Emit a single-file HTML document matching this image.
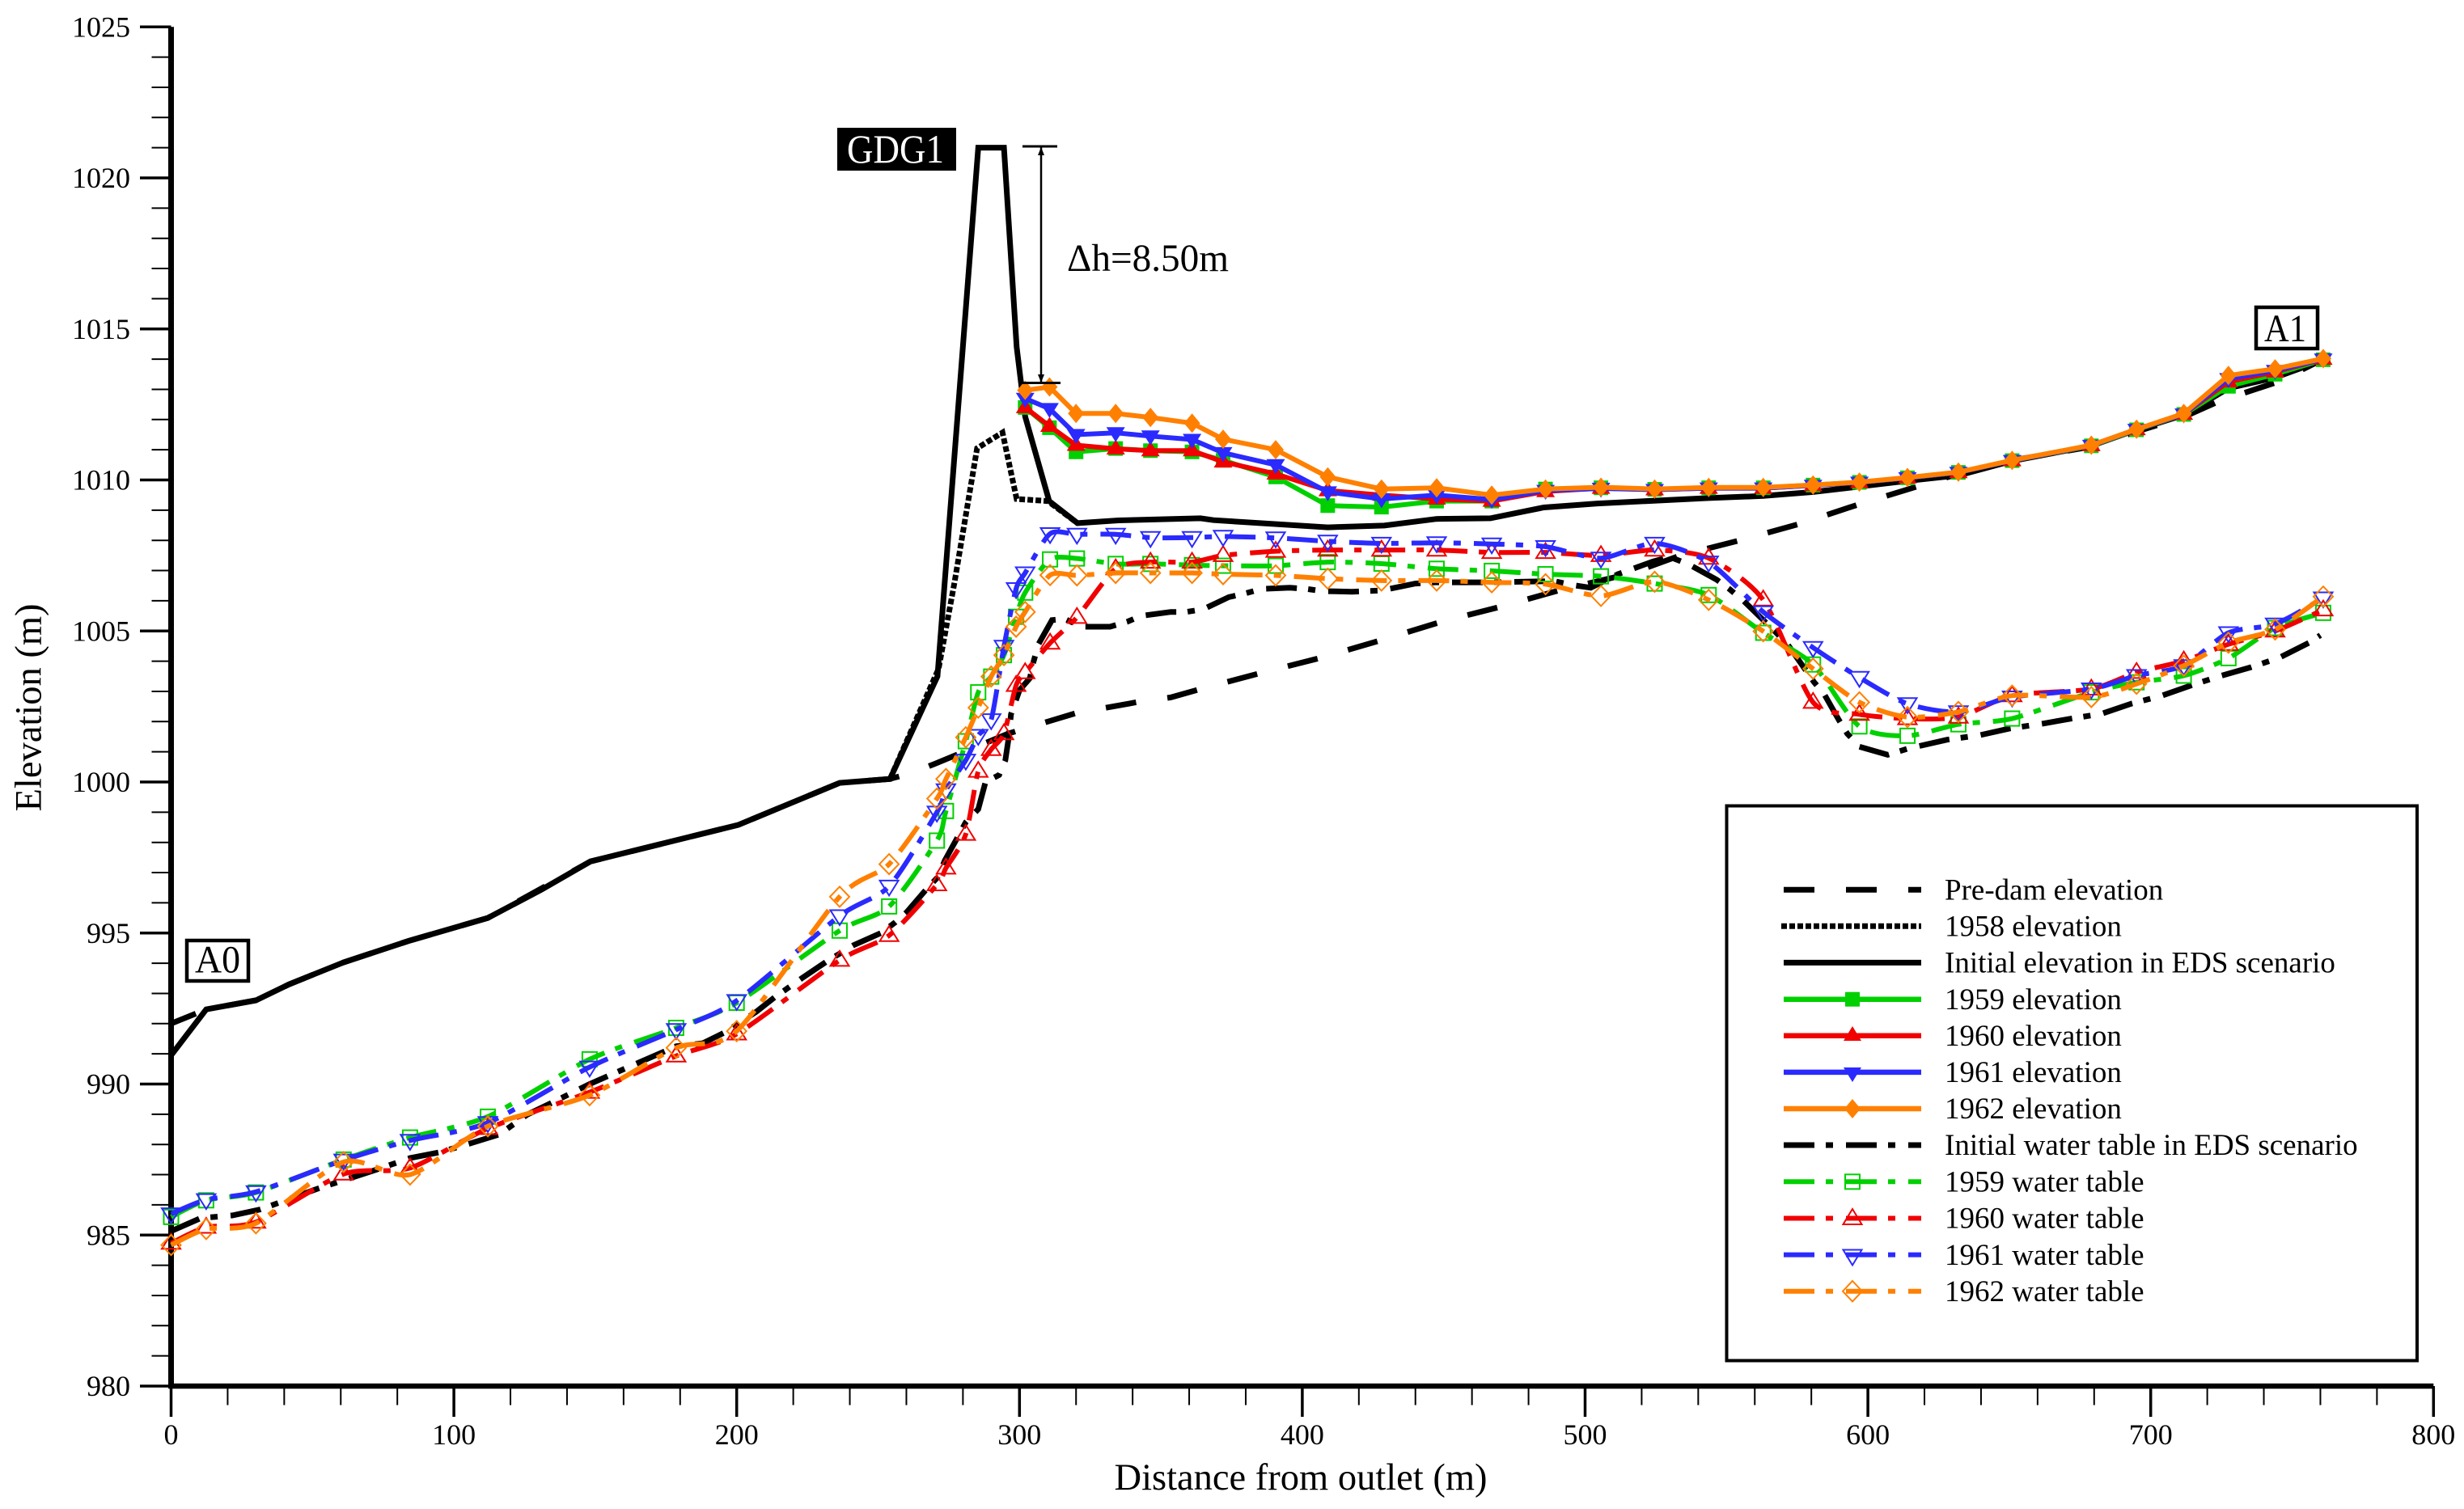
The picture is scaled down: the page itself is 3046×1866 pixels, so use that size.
<!DOCTYPE html>
<html lang="en">
<head>
<meta charset="utf-8">
<title>Elevation and water table along the profile</title>
<style>
html,body{margin:0;padding:0;background:#fff;}
svg{display:block;}
text{font-family:"Liberation Serif",serif;fill:#000;}
</style>
</head>
<body>
<svg id="chart" xmlns="http://www.w3.org/2000/svg" width="3046" height="1866" viewBox="0 0 3046 1866">
  <rect x="0" y="0" width="3046" height="1866" fill="#fff"/>
  <g id="axes"></g>
  <g id="series"></g>

  <text x="1608" y="1842" font-size="46.5" text-anchor="middle">Distance from outlet (m)</text>
  <text transform="translate(50.5,875) rotate(-90)" font-size="46.5" text-anchor="middle">Elevation (m)</text>

  <g>
    <rect x="1035" y="158" width="147" height="53" fill="#000"/>
    <text x="1047" y="201" font-size="50" style="fill:#fff" textLength="120" lengthAdjust="spacingAndGlyphs">GDG1</text>
  </g>
  <g>
    <rect x="231" y="1163" width="76" height="50" fill="#fff" stroke="#000" stroke-width="4.5"/>
    <text x="241" y="1202.5" font-size="48" textLength="56" lengthAdjust="spacingAndGlyphs">A0</text>
  </g>
  <g>
    <rect x="2789" y="380" width="76" height="51" fill="#fff" stroke="#000" stroke-width="4.5"/>
    <text x="2799" y="422" font-size="48" textLength="52" lengthAdjust="spacingAndGlyphs">A1</text>
  </g>
  <g>
    <line x1="1287" y1="181" x2="1287" y2="473" stroke="#000" stroke-width="2.5"/>
    <line x1="1264" y1="181" x2="1307" y2="181" stroke="#000" stroke-width="3"/>
    <line x1="1264" y1="473.5" x2="1311" y2="473.5" stroke="#000" stroke-width="3"/>
    <polygon points="1287,182 1283,192 1291,192" fill="#000"/>
    <polygon points="1287,473 1283,463 1291,463" fill="#000"/>
    <text x="1319" y="335" font-size="48" textLength="200" lengthAdjust="spacingAndGlyphs">Δh=8.50m</text>
  </g>

  <g>
    <rect x="2134.5" y="996.5" width="853.5" height="686" fill="#fff" stroke="#000" stroke-width="4"/>

    <g>
      <line x1="2205" y1="1100.3" x2="2375" y2="1100.3" stroke="#000" stroke-width="7" stroke-dasharray="38 39"/>
      <text x="2404" y="1112.5" font-size="37">Pre-dam elevation</text>
    </g>
    <g>
      <line x1="2202" y1="1145.3" x2="2375" y2="1145.3" stroke="#000" stroke-width="7" stroke-dasharray="7 3"/>
      <text x="2404" y="1157.5" font-size="37">1958 elevation</text>
    </g>
    <g>
      <line x1="2205" y1="1190.4" x2="2375" y2="1190.4" stroke="#000" stroke-width="7"/>
      <text x="2404" y="1202.6" font-size="37">Initial elevation in EDS scenario</text>
    </g>
    <g>
      <line x1="2205" y1="1235.7" x2="2375" y2="1235.7" stroke="#00d000" stroke-width="6.5"/>
      <rect x="2281" y="1226.7" width="18" height="18" fill="#00d000"/>
      <text x="2404" y="1247.9" font-size="37">1959 elevation</text>
    </g>
    <g>
      <line x1="2205" y1="1280.8" x2="2375" y2="1280.8" stroke="#f00000" stroke-width="6.5"/>
      <polygon points="2290,1269 2301,1287 2279,1287" fill="#f00000"/>
      <text x="2404" y="1293" font-size="37">1960 elevation</text>
    </g>
    <g>
      <line x1="2205" y1="1325.9" x2="2375" y2="1325.9" stroke="#2a2aff" stroke-width="6.5"/>
      <polygon points="2279,1320 2301,1320 2290,1338" fill="#2a2aff"/>
      <text x="2404" y="1338.1" font-size="37">1961 elevation</text>
    </g>
    <g>
      <line x1="2205" y1="1371" x2="2375" y2="1371" stroke="#ff8000" stroke-width="6.5"/>
      <polygon points="2290,1359 2300,1371 2290,1383 2280,1371" fill="#ff8000"/>
      <text x="2404" y="1383.2" font-size="37">1962 elevation</text>
    </g>
    <g>
      <line x1="2205" y1="1416" x2="2375" y2="1416" stroke="#000" stroke-width="7" stroke-dasharray="38 14 9 16"/>
      <text x="2404" y="1428.2" font-size="37">Initial water table in EDS scenario</text>
    </g>
    <g>
      <line x1="2205" y1="1461.3" x2="2375" y2="1461.3" stroke="#00d000" stroke-width="6" stroke-dasharray="38 14 9 16"/>
      <rect x="2281" y="1452.3" width="18" height="18" fill="none" stroke="#00d000" stroke-width="2"/>
      <text x="2404" y="1473.5" font-size="37">1959 water table</text>
    </g>
    <g>
      <line x1="2205" y1="1506.5" x2="2375" y2="1506.5" stroke="#f00000" stroke-width="6" stroke-dasharray="38 14 9 16"/>
      <polygon points="2290,1495 2301.5,1514 2278.5,1514" fill="none" stroke="#f00000" stroke-width="2"/>
      <text x="2404" y="1518.7" font-size="37">1960 water table</text>
    </g>
    <g>
      <line x1="2205" y1="1551.6" x2="2375" y2="1551.6" stroke="#2a2aff" stroke-width="6" stroke-dasharray="38 14 9 16"/>
      <polygon points="2278.5,1545.5 2301.5,1545.5 2290,1564.5" fill="none" stroke="#2a2aff" stroke-width="2"/>
      <text x="2404" y="1563.8" font-size="37">1961 water table</text>
    </g>
    <g>
      <line x1="2205" y1="1596.7" x2="2375" y2="1596.7" stroke="#ff8000" stroke-width="6" stroke-dasharray="38 14 9 16"/>
      <polygon points="2290,1584 2302,1596.7 2290,1609.4 2278,1596.7" fill="none" stroke="#ff8000" stroke-width="2"/>
      <text x="2404" y="1608.9" font-size="37">1962 water table</text>
    </g>
  </g>
</svg>

<script>
/* ---------- Axis tick data ---------- */
var xTickLabels = [0, 100, 200, 300, 400, 500, 600, 700, 800];
var yTickLabels = [980, 985, 990, 995, 1000, 1005, 1010, 1015, 1020, 1025];
var xMinorStep = 20;
var yMinorStep = 1;

/* ---------- Profile distances (m) ---------- */
var preDamDistance = [0,12.4,30,41.7,61,84,112,148.3,200.6,236.4,254,262,270,283,296,310,320,342,353.5,364,385,406,428,449,470,491,516,533.6,554.6,576,597,618,632,651,679,695,712,724,745,761];
var preDamElevation = [992,992.47,992.77,993.3,994.03,994.74,995.5,997.37,998.58,999.97,1000.1,1000.3,1000.6,1001.1,1001.6,1002,1002.28,1002.65,1002.8,1003.08,1003.6,1004.1,1004.7,1005.3,1005.8,1006.35,1006.9,1007.5,1008,1008.55,1009.2,1009.8,1010.2,1010.65,1011.1,1011.6,1012.1,1012.6,1013.25,1014];

var initialDistance = [0,12.4,30,41.7,61,84,112,131,148.3,200.6,236.4,254.2,271,285.4,294.5,299,302,310.5,320.5,335,364,368.6,409,429,447.4,466.5,485.4,504.4,543.7,563,580.6,597,614,632,651,679,695,711.7,727.5,744,761];
var initialElevation = [990.95,992.47,992.77,993.3,994.03,994.74,995.5,996.44,997.37,998.58,999.97,1000.1,1003.5,1021,1021,1014.4,1012.1,1009.3,1008.57,1008.66,1008.73,1008.67,1008.43,1008.49,1008.71,1008.73,1009.09,1009.22,1009.4,1009.47,1009.6,1009.78,1009.97,1010.15,1010.63,1011.13,1011.66,1012.15,1013.04,1013.39,1013.97];

var elev1958Distance = [254.2,271.4,277,285,294,299,310,320.5];
var elev1958Elevation = [1000.1,1003.75,1006.6,1011.05,1011.57,1009.37,1009.3,1008.57];

/* ---------- Post-dam elevation surveys ---------- */
var elevationDistance = [302,310.6,320,334,346.3,361,372,390.6,409,428,447.5,467,486,505.6,524.6,543.7,563,580.6,597,614,632,651,679,695,711.7,727.5,744,761];
var elevation1959 = [1012.4,1011.73,1010.93,1011.04,1010.97,1010.93,1010.65,1010.1,1009.15,1009.1,1009.3,1009.3,1009.7,1009.74,1009.69,1009.74,1009.74,1009.83,1009.92,1010.07,1010.25,1010.64,1011.13,1011.66,1012.17,1013.1,1013.5,1013.98];
var elevation1960 = [1012.4,1011.78,1011.15,1011.03,1010.97,1010.97,1010.6,1010.2,1009.65,1009.5,1009.37,1009.3,1009.62,1009.73,1009.68,1009.73,1009.73,1009.82,1009.92,1010.07,1010.25,1010.64,1011.14,1011.67,1012.18,1013.25,1013.58,1014];
var elevation1961 = [1012.7,1012.36,1011.5,1011.56,1011.45,1011.34,1010.9,1010.5,1009.6,1009.37,1009.5,1009.35,1009.65,1009.72,1009.68,1009.73,1009.73,1009.82,1009.92,1010.07,1010.25,1010.64,1011.14,1011.67,1012.18,1013.35,1013.62,1014];
var elevation1962 = [1012.97,1013.08,1012.2,1012.2,1012.07,1011.88,1011.35,1011,1010.1,1009.7,1009.74,1009.5,1009.7,1009.76,1009.7,1009.75,1009.75,1009.83,1009.93,1010.08,1010.26,1010.65,1011.15,1011.68,1012.2,1013.46,1013.68,1014.02];

/* ---------- Water tables ---------- */
var initialWaterDistance = [0,10.5,21.6,31.6,52,73.7,84.5,95,106,116,126,134.6,148,178.6,188,195.6,207,213.4,223,232,241.4,251,256,260,267,271,273.6,278,281,285.4,288,292.8,295,296,297,300,303.7,304.8,306.7,311.5,316,322,332,338,343,353.5,359,365,374,380,385.6,395.6,401.6,407,417.6,428,440,447,467,489,495.6,502,511.6,524,530,537,546.5,551,556,567,571.6,581,584.6,589.7,592.7,597,607,614,628,639.6,650,661.7,672,682.7,693,704,714,725,735.4,745.6,756,760];
var initialWaterTable = [985.13,985.56,985.65,985.85,986.54,987.2,987.55,987.74,988.04,988.33,988.99,989.38,990,991.25,991.35,991.7,992.4,992.87,993.5,994.07,994.6,995,995.35,995.68,996.44,996.84,997.4,998.15,998.67,999.1,1000,1000.23,1000.72,1001.35,1002.24,1003.04,1003.44,1003.93,1004.56,1005.36,1005.4,1005.14,1005.14,1005.3,1005.5,1005.63,1005.63,1005.72,1006.12,1006.25,1006.39,1006.43,1006.39,1006.32,1006.3,1006.34,1006.57,1006.61,1006.61,1006.65,1006.52,1006.43,1006.88,1007.3,1007.45,1007.19,1006.7,1006.39,1006,1005,1004.56,1003.3,1002.9,1002.06,1001.6,1001.17,1000.9,1001.1,1001.4,1001.55,1001.77,1001.93,1002.1,1002.26,1002.59,1002.86,1003.19,1003.52,1003.8,1004.12,1004.61,1004.86];

var waterDistance = [0,12.4,30,61,84.5,112,148,178.6,200,236.4,253.9,270.8,274,281,285.4,290,294.5,298.8,302,310.8,320.3,334,346.3,361,372,390.6,409,428,447.5,467,486,505.6,524.6,543.7,563,580.6,597,614,632,651,679,695,711.7,727.5,744,761];
var waterTable1959 = [985.6,986.15,986.41,987.5,988.23,988.92,990.82,991.86,992.69,995.08,995.88,998.06,999.04,1001.35,1002.97,1003.49,1004.2,1005.47,1006.27,1007.37,1007.4,1007.22,1007.22,1007.18,1007.16,1007.16,1007.28,1007.23,1007.06,1006.99,1006.88,1006.81,1006.57,1006.19,1004.94,1003.89,1001.84,1001.53,1001.91,1002.1,1002.97,1003.3,1003.52,1004.1,1005.1,1005.6];
var waterTable1960 = [984.73,985.26,985.43,987.02,987.22,988.53,989.73,990.93,991.66,994.1,994.92,996.6,997.15,998.27,1000.36,1001.08,1001.6,1003.2,1003.62,1004.6,1005.45,1007.06,1007.28,1007.28,1007.5,1007.64,1007.68,1007.68,1007.68,1007.6,1007.6,1007.5,1007.68,1007.41,1006.03,1002.64,1002.24,1002.1,1002.15,1002.86,1003.08,1003.63,1004.01,1004.56,1005,1005.7];
var waterTable1961 = [985.7,986.17,986.43,987.48,988.13,988.72,990.56,991.8,992.76,995.57,996.55,999,999.74,1000.72,1001.54,1002.06,1004.49,1006.4,1006.92,1008.22,1008.2,1008.2,1008.09,1008.09,1008.13,1008.08,1007.97,1007.9,1007.92,1007.88,1007.79,1007.41,1007.9,1007.28,1005.63,1004.45,1003.46,1002.59,1002.32,1002.81,1003.08,1003.52,1003.85,1004.94,1005.23,1006.09];
var waterTable1962 = [984.67,985.2,985.39,987.42,987,988.6,989.63,991.2,991.75,996.2,997.28,999.45,1000.1,1001.48,1002.46,1003.49,1004.2,1005.14,1005.63,1006.85,1006.84,1006.92,1006.92,1006.92,1006.88,1006.84,1006.73,1006.67,1006.67,1006.61,1006.55,1006.16,1006.63,1006.03,1004.99,1003.75,1002.64,1002.15,1002.32,1002.86,1002.81,1003.25,1003.85,1004.61,1005.05,1006.14];

/* ---------- Axis functions ---------- */
var SVG_NS = 'http://www.w3.org/2000/svg';
var X_ORIGIN = 211.5, X_PER_M = 3.496;
var Y_ORIGIN = 1714, Y_PER_M = 37.35, Y_BASE = 980;
function xScale(d) { return X_ORIGIN + d * X_PER_M; }
function yScale(e) { return Y_ORIGIN - (e - Y_BASE) * Y_PER_M; }

function make(tag, parent, attrs) {
  var el = document.createElementNS(SVG_NS, tag);
  for (var k in attrs) { el.setAttribute(k, attrs[k]); }
  parent.appendChild(el);
  return el;
}

var axesGroup = document.getElementById('axes');
var seriesGroup = document.getElementById('series');

/* ---------- Axes ---------- */
function drawAxes() {
  var xMax = xTickLabels[xTickLabels.length - 1];
  var yMax = yTickLabels[yTickLabels.length - 1];
  var d, e, i, tick, label;

  for (d = 0; d <= xMax; d += xMinorStep) {
    if (d % 100 === 0) { continue; }
    tick = make('line', axesGroup, {x1: xScale(d), y1: Y_ORIGIN, x2: xScale(d), y2: 1737.5, stroke: '#000', 'stroke-width': 2});
    
    
  }
  for (e = Y_BASE; e <= yMax; e += yMinorStep) {
    if (e % 5 === 0) { continue; }
    tick = make('line', axesGroup, {x1: 187.5, y1: yScale(e), x2: X_ORIGIN, y2: yScale(e), stroke: '#000', 'stroke-width': 2});
    
    
  }
  for (i = 0; i < xTickLabels.length; i++) {
    tick = make('line', axesGroup, {x1: xScale(xTickLabels[i]), y1: Y_ORIGIN, x2: xScale(xTickLabels[i]), y2: 1752, stroke: '#000', 'stroke-width': 3.5});
    
    
    label = make('text', axesGroup, {x: xScale(xTickLabels[i]), y: 1786, 'font-size': 36, 'text-anchor': 'middle'});
    label.textContent = String(xTickLabels[i]);
    
    
  }
  for (i = 0; i < yTickLabels.length; i++) {
    tick = make('line', axesGroup, {x1: 173, y1: yScale(yTickLabels[i]), x2: X_ORIGIN, y2: yScale(yTickLabels[i]), stroke: '#000', 'stroke-width': 3.5});
    
    
    label = make('text', axesGroup, {x: 161, y: yScale(yTickLabels[i]) + 12, 'font-size': 36, 'text-anchor': 'end'});
    label.textContent = String(yTickLabels[i]);
    
    
  }
  var yAxis = make('line', axesGroup, {x1: X_ORIGIN, y1: yScale(yMax), x2: X_ORIGIN, y2: Y_ORIGIN + 3, stroke: '#000', 'stroke-width': 7});
  
  
  var xAxis = make('line', axesGroup, {x1: X_ORIGIN - 3, y1: Y_ORIGIN, x2: xScale(xMax), y2: Y_ORIGIN, stroke: '#000', 'stroke-width': 6.5});
  
  
}

/* ---------- Series paths ---------- */
function linearPath(xs, ys) {
  var p = '';
  for (var i = 0; i < xs.length; i++) {
    p += (i ? 'L' : 'M') + xScale(xs[i]).toFixed(1) + ' ' + yScale(ys[i]).toFixed(1);
  }
  return p;
}
function smoothPath(xs, ys) {
  var pts = [];
  for (var i = 0; i < xs.length; i++) { pts.push([xScale(xs[i]), yScale(ys[i])]); }
  var p = 'M' + pts[0][0].toFixed(1) + ' ' + pts[0][1].toFixed(1);
  for (var j = 0; j < pts.length - 1; j++) {
    var a = pts[Math.max(j - 1, 0)], b = pts[j], c = pts[j + 1], f = pts[Math.min(j + 2, pts.length - 1)];
    p += 'C' + (b[0] + (c[0] - a[0]) / 8).toFixed(1) + ' ' + (b[1] + (c[1] - a[1]) / 8).toFixed(1) + ' ' +
         (c[0] - (f[0] - b[0]) / 8).toFixed(1) + ' ' + (c[1] - (f[1] - b[1]) / 8).toFixed(1) + ' ' +
         c[0].toFixed(1) + ' ' + c[1].toFixed(1);
  }
  return p;
}
function markerAt(g, kind, filled, color, cx, cy) {
  var el, pts;
  var fill = filled ? color : 'none';
  var stroke = filled ? 'none' : color;
  if (kind === 'square') {
    el = make('rect', g, {x: cx - 9, y: cy - 9, width: 18, height: 18, fill: fill, stroke: stroke, 'stroke-width': 2});
  } else {
    if (kind === 'up') { pts = [[cx, cy - 11.5], [cx + 11.5, cy + 7], [cx - 11.5, cy + 7]]; }
    if (kind === 'down') { pts = [[cx - 11.5, cy - 7], [cx + 11.5, cy - 7], [cx, cy + 11.5]]; }
    if (kind === 'diamond') {
      pts = filled
        ? [[cx, cy - 12], [cx + 10, cy], [cx, cy + 12], [cx - 10, cy]]
        : [[cx, cy - 12.5], [cx + 12, cy], [cx, cy + 12.5], [cx - 12, cy]];
    }
    el = make('polygon', g, {points: pts.map(function (q) { return q[0].toFixed(1) + ',' + q[1].toFixed(1); }).join(' '), fill: fill, stroke: stroke, 'stroke-width': 2});
  }
  return el;
}
function drawSeries(name, xs, ys, opts) {
  var g = make('g', seriesGroup, {});
  
  
  var line = make('path', g, {
    d: opts.smooth ? smoothPath(xs, ys) : linearPath(xs, ys),
    fill: 'none', stroke: opts.color, 'stroke-width': opts.width,
    'stroke-linejoin': 'miter', 'stroke-linecap': 'butt'
  });
  if (opts.dash) { line.setAttribute('stroke-dasharray', opts.dash); }
  if (opts.offset) { line.setAttribute('stroke-dashoffset', opts.offset); }
  
  
  if (opts.marker) {
    for (var i = 0; i < xs.length; i++) {
      var m = markerAt(g, opts.marker, opts.filled, opts.color, xScale(xs[i]), yScale(ys[i]));
      
      
    }
  }
}

var GREEN = '#00d000', RED = '#f00000', BLUE = '#2a2aff', ORANGE = '#ff8000';
var WT_DASH = '38 14 9 16';

drawAxes();
drawSeries('pre-dam-elevation', preDamDistance, preDamElevation, {color: '#000', width: 7, dash: '38 39', offset: 5});
drawSeries('initial-elevation-eds', initialDistance, initialElevation, {color: '#000', width: 7});
drawSeries('elevation-1958', elev1958Distance, elev1958Elevation, {color: '#000', width: 7, dash: '7 3'});
drawSeries('elevation-1959', elevationDistance, elevation1959, {color: GREEN, width: 6, marker: 'square', filled: true});
drawSeries('elevation-1960', elevationDistance, elevation1960, {color: RED, width: 6, marker: 'up', filled: true});
drawSeries('elevation-1961', elevationDistance, elevation1961, {color: BLUE, width: 6, marker: 'down', filled: true});
drawSeries('elevation-1962', elevationDistance, elevation1962, {color: ORANGE, width: 6, marker: 'diamond', filled: true});
drawSeries('initial-water-table-eds', initialWaterDistance, initialWaterTable, {color: '#000', width: 7, dash: WT_DASH});
drawSeries('water-table-1959', waterDistance, waterTable1959, {color: GREEN, width: 6, dash: WT_DASH, smooth: true, marker: 'square', filled: false});
drawSeries('water-table-1960', waterDistance, waterTable1960, {color: RED, width: 6, dash: WT_DASH, smooth: true, marker: 'up', filled: false});
drawSeries('water-table-1961', waterDistance, waterTable1961, {color: BLUE, width: 6, dash: WT_DASH, smooth: true, marker: 'down', filled: false});
drawSeries('water-table-1962', waterDistance, waterTable1962, {color: ORANGE, width: 6, dash: WT_DASH, smooth: true, marker: 'diamond', filled: false});
</script>
</body>
</html>
